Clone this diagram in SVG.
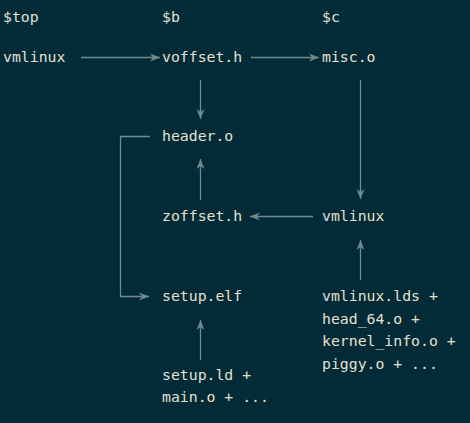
<svg xmlns="http://www.w3.org/2000/svg" width="470" height="423" viewBox="0 0 470 423">
<style>
text{font-family:"DejaVu Sans Mono","Liberation Mono",monospace;font-size:14.8px;fill:#e4e0d0}
.c{fill:none;stroke:#6f8a90;stroke-width:1.3}
</style>
<defs>
<marker id="ah" viewBox="0 0 10 10" refX="10" refY="5" markerWidth="10" markerHeight="10" markerUnits="userSpaceOnUse" orient="auto">
<path d="M0,1 L10,5 L0,9 L3,5 Z" fill="#6f8a90"/>
</marker>
</defs>
<rect width="470" height="423" fill="#022b37"/>
<g id="headers">
<text x="3" y="22">$top</text>
<text x="162" y="22">$b</text>
<text x="322" y="22">$c</text>
</g>
<g id="n-vmlinux-top"><text x="3" y="62">vmlinux</text></g>
<g id="n-voffset"><text x="162" y="62">voffset.h</text></g>
<g id="n-misc"><text x="322" y="62">misc.o</text></g>
<g id="n-header"><text x="162" y="141">header.o</text></g>
<g id="n-zoffset"><text x="162" y="221">zoffset.h</text></g>
<g id="n-vmlinux-c"><text x="322" y="221">vmlinux</text></g>
<g id="n-setup-elf"><text x="162" y="301">setup.elf</text></g>
<g id="n-setup-src"><text x="162" y="380">setup.ld +</text><text x="162" y="402">main.o + ...</text></g>
<g id="n-vmlinux-src"><text x="322" y="301">vmlinux.lds +</text><text x="322" y="323.5">head_64.o +</text><text x="322" y="346">kernel_info.o +</text><text x="322" y="368.5">piggy.o + ...</text></g>
<g id="connectors">
<path class="c" d="M81,57.5 H160" marker-end="url(#ah)"/>
<path class="c" d="M251,57.5 H319" marker-end="url(#ah)"/>
<path class="c" d="M200.5,80 V119" marker-end="url(#ah)"/>
<path class="c" d="M360.5,80 V199" marker-end="url(#ah)"/>
<path class="c" d="M200.5,200 V159" marker-end="url(#ah)"/>
<path class="c" d="M313,216.5 H250" marker-end="url(#ah)"/>
<path class="c" d="M360.5,280 V240" marker-end="url(#ah)"/>
<path class="c" d="M150,136.5 H120.5 V296.5 H149" marker-end="url(#ah)"/>
<path class="c" d="M200.5,360 V320" marker-end="url(#ah)"/>
</g>
</svg>
